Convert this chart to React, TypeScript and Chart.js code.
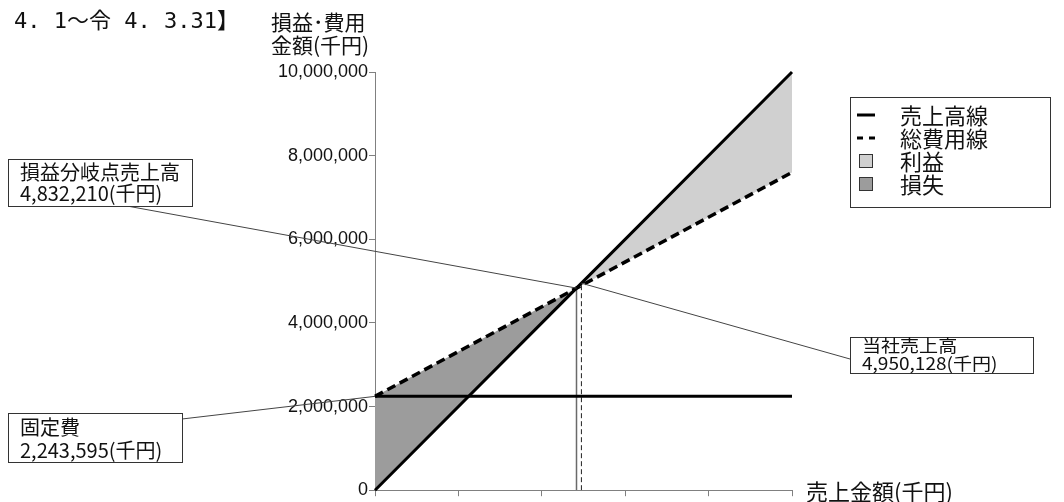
import React, { useEffect, useRef } from 'react';
import { Chart, registerables } from 'chart.js';

Chart.register(...registerables);

// ---- data (千円) ----
const salesX = [0, 4832210, 10000000];
const salesLine = [0, 4832210, 10000000];
const totalCostLine = [2243595, 4832210, 7600000];
const fixedCostLine = [2243595, 2243595, 2243595];
const breakEvenSales = 4832210;
const fixedCost = 2243595;
const companySales = 4950128;
const yTickValues = [0, 2000000, 4000000, 6000000, 8000000, 10000000];
const legendLabels = ['売上高線', '総費用線', '利益', '損失'];
const periodText = '4. 1～令 4. 3.31】';
const yAxisTitle = ['損益･費用', '金額(千円)'];
const xAxisTitle = '売上金額(千円)';
const breakEvenLabel = ['損益分岐点売上高', '4,832,210(千円)'];
const fixedCostLabel = ['固定費', '2,243,595(千円)'];
const companySalesLabel = ['当社売上高', '4,950,128(千円)'];

const PROFIT = '#d0d0d0';
const LOSS = '#9c9c9c';
const JP = '"Noto Sans CJK JP", "Noto Sans", sans-serif';

function drawBox(
  ctx: CanvasRenderingContext2D,
  x: number,
  y: number,
  w: number,
  h: number,
  lines: string[],
  tx: number,
  ys: number[],
  font: string,
  sx = 1
) {
  ctx.fillStyle = '#ffffff';
  ctx.fillRect(x, y, w, h);
  ctx.strokeStyle = '#333333';
  ctx.lineWidth = 1;
  ctx.strokeRect(x + 0.5, y + 0.5, w, h);
  ctx.fillStyle = '#111111';
  ctx.font = font;
  ctx.textAlign = 'left';
  ctx.textBaseline = 'middle';
  lines.forEach((t, i) => {
    ctx.save();
    ctx.translate(tx, ys[i]);
    ctx.scale(sx, 1);
    ctx.fillText(t, 0, 0);
    ctx.restore();
  });
}

const overlayPlugin = {
  id: 'overlay',
  afterDraw(chart: any) {
    const ctx: CanvasRenderingContext2D = chart.ctx;
    const xs = chart.scales.x;
    const ysc = chart.scales.y;
    ctx.save();

    // leader lines
    ctx.strokeStyle = '#444444';
    ctx.lineWidth = 1;
    ctx.beginPath();
    ctx.moveTo(127, 206);
    ctx.lineTo(xs.getPixelForValue(breakEvenSales), ysc.getPixelForValue(breakEvenSales));
    ctx.moveTo(182, 419);
    ctx.lineTo(xs.getPixelForValue(0), ysc.getPixelForValue(fixedCost));
    ctx.moveTo(850, 359);
    ctx.lineTo(xs.getPixelForValue(companySales), ysc.getPixelForValue(companySales));
    ctx.stroke();

    // annotation boxes
    drawBox(ctx, 8, 159, 184, 47, breakEvenLabel, 20, [172, 193], `20px ${JP}`);
    drawBox(ctx, 8, 413, 174, 49, fixedCostLabel, 20, [427, 450], `20px ${JP}`);
    drawBox(ctx, 850, 337, 183, 36, companySalesLabel, 862, [346, 364], `17px ${JP}`, 1.12);

    // period text
    ctx.fillStyle = '#111111';
    ctx.font = `22px "DejaVu Sans Mono", ${JP}`;
    ctx.textAlign = 'left';
    ctx.textBaseline = 'middle';
    ctx.fillText(periodText, 14, 22);

    // axis titles
    ctx.font = `21px ${JP}`;
    ctx.fillText(yAxisTitle[0], 271, 22);
    ctx.fillText(yAxisTitle[1], 271, 45);
    ctx.font = `22px ${JP}`;
    ctx.fillText(xAxisTitle, 806, 492);

    // legend
    ctx.fillStyle = '#ffffff';
    ctx.fillRect(850, 97, 200, 110);
    ctx.strokeStyle = '#333333';
    ctx.strokeRect(850.5, 97.5, 200, 110);
    const rows = [115, 138, 161, 184];
    ctx.strokeStyle = '#000000';
    ctx.lineWidth = 3;
    ctx.beginPath();
    ctx.moveTo(857, rows[0]);
    ctx.lineTo(875, rows[0]);
    ctx.stroke();
    ctx.setLineDash([6, 6]);
    ctx.beginPath();
    ctx.moveTo(857, rows[1]);
    ctx.lineTo(881, rows[1]);
    ctx.stroke();
    ctx.setLineDash([]);
    ctx.lineWidth = 1;
    ctx.strokeStyle = '#333333';
    ctx.fillStyle = PROFIT;
    ctx.fillRect(859, rows[2] - 7, 14, 14);
    ctx.strokeRect(859.5, rows[2] - 6.5, 13, 13);
    ctx.fillStyle = LOSS;
    ctx.fillRect(859, rows[3] - 7, 14, 14);
    ctx.strokeRect(859.5, rows[3] - 6.5, 13, 13);
    ctx.fillStyle = '#111111';
    ctx.font = `22px ${JP}`;
    legendLabels.forEach((t, i) => ctx.fillText(t, 900, rows[i] + 1));

    ctx.restore();
  },
};

export default function App() {
  const ref = useRef<HTMLCanvasElement | null>(null);

  useEffect(() => {
    if (!ref.current) return;
    const pts = (ys: number[]) => salesX.map((x, i) => ({ x, y: ys[i] }));
    const chart = new Chart(ref.current, {
      type: 'line',
      data: {
        datasets: [
          {
            label: '売上高線',
            data: pts(salesLine),
            borderColor: '#000000',
            borderWidth: 3,
            pointRadius: 0,
            fill: { target: 1, above: PROFIT, below: LOSS },
            clip: false,
          },
          {
            label: '総費用線',
            data: pts(totalCostLine),
            borderColor: '#000000',
            borderWidth: 3.5,
            borderDash: [9, 5],
            pointRadius: 0,
            fill: false,
            clip: false,
          },
          {
            label: '固定費',
            data: pts(fixedCostLine),
            borderColor: '#000000',
            borderWidth: 3,
            pointRadius: 0,
            fill: false,
            clip: false,
          },
          {
            label: '損益分岐点',
            data: [
              { x: breakEvenSales, y: 0 },
              { x: breakEvenSales, y: breakEvenSales },
            ],
            borderColor: '#6a6a6a',
            borderWidth: 1.5,
            pointRadius: 0,
            fill: false,
          },
          {
            label: '当社売上高',
            data: [
              { x: companySales, y: 0 },
              { x: companySales, y: companySales },
            ],
            borderColor: '#222222',
            borderWidth: 1,
            borderDash: [5, 3],
            pointRadius: 0,
            fill: false,
          },
        ],
      },
      options: {
        animation: false,
        responsive: false,
        events: [],
        layout: { padding: { left: 0, right: 272, top: 72, bottom: 0 } },
        plugins: {
          legend: { display: false },
          tooltip: { enabled: false },
          filler: { drawTime: 'beforeDatasetsDraw' },
        } as any,
        scales: {
          x: {
            type: 'linear',
            min: 0,
            max: 10000000,
            ticks: { stepSize: 2000000, display: false },
            grid: { drawOnChartArea: false, drawTicks: true, tickLength: 6, color: '#808080' },
            border: { color: '#808080', width: 1 },
            afterFit: (s: any) => {
              s.height = 11;
            },
          },
          y: {
            type: 'linear',
            min: 0,
            max: 10000000,
            afterBuildTicks: (s: any) => {
              s.ticks = yTickValues.map((v) => ({ value: v }));
            },
            ticks: {
              padding: 1,
              color: '#111111',
              font: { family: '"Liberation Sans", Arial, sans-serif', size: 18 },
              callback: (v: any) => Number(v).toLocaleString('en-US'),
            },
            grid: { drawOnChartArea: false, drawTicks: true, tickLength: 6, color: '#808080' },
            border: { color: '#808080', width: 1 },
            afterFit: (s: any) => {
              s.width = 375;
            },
          },
        },
      },
      plugins: [overlayPlugin],
    });
    return () => chart.destroy();
  }, []);

  return (
    <div style={{ position: 'fixed', left: 0, top: 0, width: 1064, height: 502, background: '#ffffff' }}>
      <canvas ref={ref} width={1064} height={502} style={{ display: 'block' }} />
    </div>
  );
}
